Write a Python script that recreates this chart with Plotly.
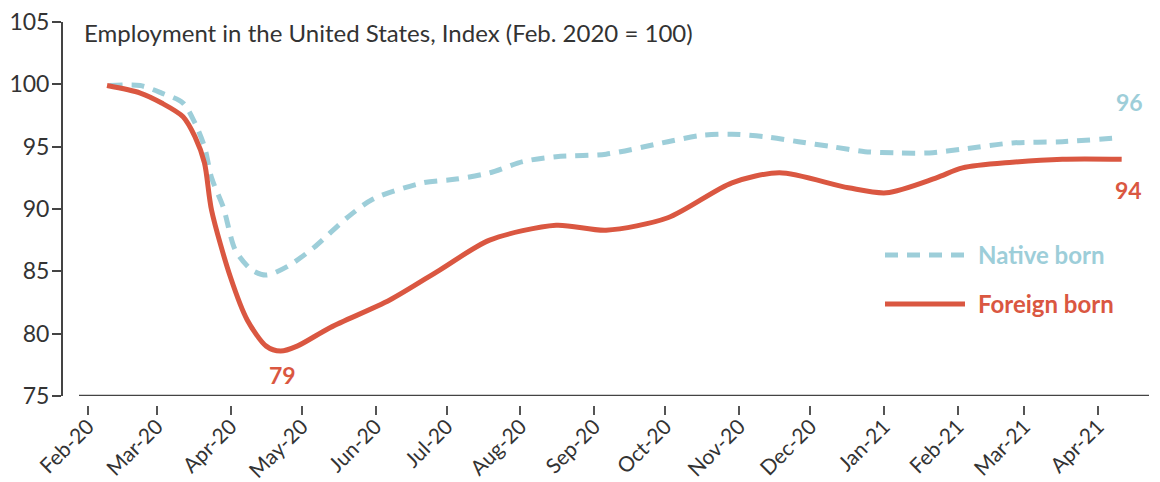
import plotly.graph_objects as go

# ---------------- data ----------------
foreign_dates = ["2020-02-09", "2020-02-23", "2020-03-03", "2020-03-12", "2020-03-17",
                 "2020-03-21", "2020-03-24", "2020-04-01", "2020-04-08", "2020-04-16",
                 "2020-04-22", "2020-04-29", "2020-05-13", "2020-06-07", "2020-06-28",
                 "2020-07-19", "2020-08-16", "2020-09-06", "2020-10-02", "2020-10-29",
                 "2020-11-18", "2020-12-17", "2021-01-02", "2021-01-23", "2021-02-03",
                 "2021-02-24", "2021-03-17", "2021-04-11"]
foreign_born = [99.9, 99.3, 98.5, 97.4, 95.8,
                93.7, 89.9, 84.5, 81.1, 79.0,
                78.6, 79.0, 80.5, 82.7, 85.1,
                87.5, 88.7, 88.3, 89.3, 92.1,
                92.9, 91.7, 91.3, 92.5, 93.3,
                93.75, 94.0, 94.0]

native_dates = ["2020-02-10", "2020-02-23", "2020-03-03", "2020-03-12", "2020-03-17",
                "2020-03-21", "2020-03-24", "2020-03-29", "2020-04-03", "2020-04-10",
                "2020-04-16", "2020-04-25", "2020-05-06", "2020-05-20", "2020-05-31",
                "2020-06-21", "2020-07-05", "2020-07-19", "2020-08-02", "2020-08-16",
                "2020-09-06", "2020-10-02", "2020-10-16", "2020-10-29", "2020-11-12",
                "2020-11-26", "2020-12-10", "2020-12-24", "2021-01-07", "2021-01-20",
                "2021-02-03", "2021-02-24", "2021-03-17", "2021-04-09"]
native_born = [99.9, 99.9, 99.3, 98.5, 96.9,
               95.0, 92.5, 90.1, 86.7, 85.1,
               84.7, 85.4, 86.9, 89.3, 90.8,
               92.1, 92.4, 92.9, 93.8, 94.2,
               94.4, 95.4, 95.9, 96.0, 95.8,
               95.4, 95.0, 94.6, 94.5, 94.5,
               94.8, 95.3, 95.4, 95.7]

tick_dates = ["2020-02-01", "2020-03-01", "2020-04-01", "2020-05-01", "2020-06-01",
              "2020-07-01", "2020-08-01", "2020-09-01", "2020-10-01", "2020-11-01",
              "2020-12-01", "2021-01-01", "2021-02-01", "2021-03-01", "2021-04-01"]
tick_labels = ["Feb-20", "Mar-20", "Apr-20", "May-20", "Jun-20", "Jul-20", "Aug-20",
               "Sep-20", "Oct-20", "Nov-20", "Dec-20", "Jan-21", "Feb-21", "Mar-21", "Apr-21"]
y_ticks = [75, 80, 85, 90, 95, 100, 105]

title_text = "Employment in the United States, Index (Feb. 2020 = 100)"
series_names = ["Native born", "Foreign born"]

# ---------------- style ----------------
RED = "#DA5741"
BLUE = "#9DCED9"
AXIS = "#444444"
FONT = "Lato"
OFF = 8                      # page body margin of the browser
W, H = 1160 - OFF, 482 - OFF


def px(x):
    return (x - OFF) / W


def py(y):
    return (H - (y - OFF)) / H


fig = go.Figure()
fig.add_trace(go.Scatter(x=native_dates, y=native_born, mode="lines", name=series_names[0],
                         line=dict(color=BLUE, width=5, dash="13px,9px", shape="spline", smoothing=0.8),
                         showlegend=False))
fig.add_trace(go.Scatter(x=foreign_dates, y=foreign_born, mode="lines", name=series_names[1],
                         line=dict(color=RED, width=5, shape="spline", smoothing=0.8),
                         showlegend=False))

# value labels
i_min = foreign_born.index(min(foreign_born))
fig.add_annotation(x=foreign_dates[i_min], y=foreign_born[i_min], text=f"<b>{round(foreign_born[i_min])}</b>",
                   showarrow=False, yshift=-24, xshift=2, font=dict(family=FONT, size=23, color=RED))
fig.add_annotation(x=foreign_dates[-1], y=foreign_born[-1], text=f"<b>{round(foreign_born[-1])}</b>",
                   showarrow=False, yshift=-31, xshift=7, font=dict(family=FONT, size=23, color=RED))
fig.add_annotation(x=native_dates[-1], y=native_born[-1], text=f"<b>{round(native_born[-1])}</b>",
                   showarrow=False, yshift=36, xshift=13, font=dict(family=FONT, size=23, color=BLUE))

# title
fig.add_annotation(xref="paper", yref="paper", x=px(82), y=py(32), xanchor="left", yanchor="middle",
                   text=title_text, showarrow=False, font=dict(family=FONT, size=24, color="#333333"))

# custom legend
for name, color, dash, ypix in [(series_names[0], BLUE, "13px,9px", 255), (series_names[1], RED, "solid", 304)]:
    fig.add_shape(type="line", xref="paper", yref="paper", x0=px(885), x1=px(965),
                  y0=py(ypix), y1=py(ypix), line=dict(color=color, width=5, dash=dash))
    fig.add_annotation(xref="paper", yref="paper", x=px(976), y=py(ypix), xanchor="left",
                       yanchor="middle", text=f"<b>{name}</b>", showarrow=False,
                       font=dict(family=FONT, size=24, color=color))

# x axis baseline
fig.add_shape(type="line", xref="x domain", yref="y", x0=0, x1=1, y0=75, y1=75,
              line=dict(color=AXIS, width=2.5))

fig.update_layout(
    width=W, height=H,
    margin=dict(l=0, r=0, t=0, b=0),
    paper_bgcolor="white", plot_bgcolor="white",
    font=dict(family=FONT, color="#333333"),
    xaxis=dict(type="date", domain=[px(79), px(1149)], range=["2020-01-28 05:00", "2021-04-22 12:00"],
               anchor="free", position=py(405), showline=False, showgrid=False, zeroline=False,
               tickmode="array", tickvals=tick_dates, ticktext=tick_labels, tickangle=-45,
               ticks="outside", ticklen=9, tickwidth=1.5, tickcolor="#555555",
               ticklabelstandoff=-9, ticklabeloverflow="allow",
               tickfont=dict(family=FONT, size=21, color="#333333"), automargin=False),
    yaxis=dict(domain=[py(396), py(22)], range=[75, 105], anchor="free", position=px(62),
               showline=True, linewidth=2, linecolor=AXIS, showgrid=False, zeroline=False,
               tickmode="array", tickvals=y_ticks, ticks="outside", ticklen=9, tickwidth=2,
               ticklabelstandoff=-2, ticklabeloverflow="allow",
               tickcolor=AXIS, tickfont=dict(family=FONT, size=23, color="#333333"), automargin=False),
)

fig.write_html("out.html")
